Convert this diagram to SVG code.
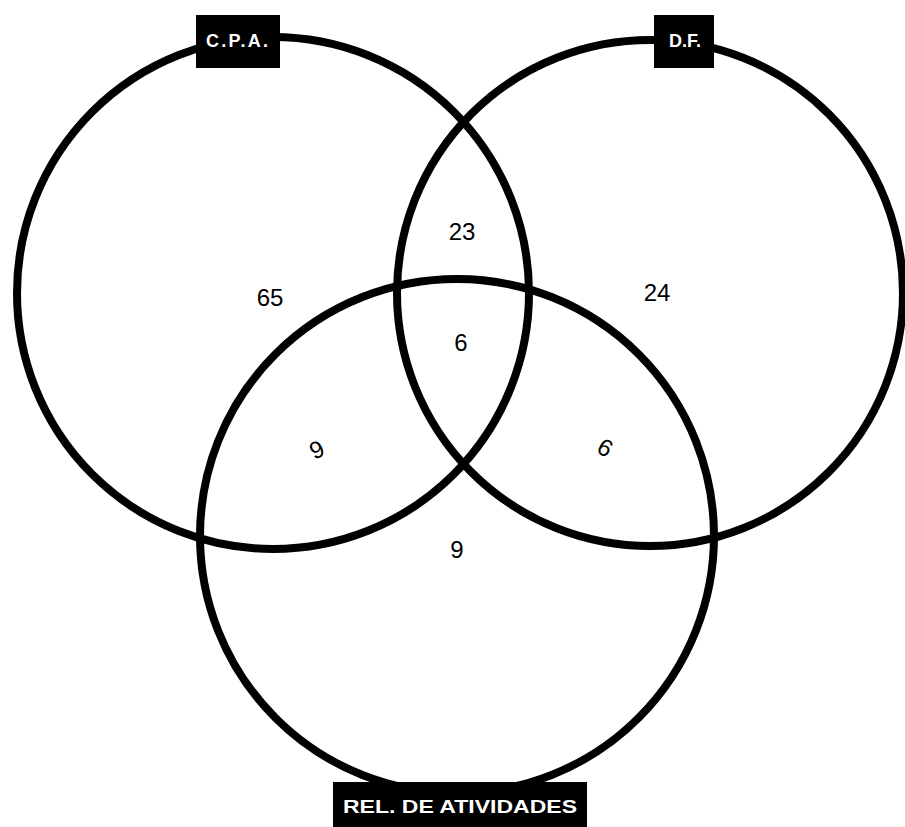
<svg xmlns="http://www.w3.org/2000/svg" width="905" height="827" viewBox="0 0 905 827">
<style>
.c{fill:none;stroke:#000;stroke-width:8}
.n{font-family:"Liberation Sans",Arial,sans-serif;font-size:24px;fill:#000;text-anchor:middle}
.lb{fill:#000}
.lt{font-family:"Liberation Sans",Arial,sans-serif;font-weight:bold;fill:#fff;text-anchor:middle}
</style>
<rect width="905" height="827" fill="#fff"/>
<g id="sets">
<circle id="cpa" class="c" cx="273" cy="293" r="256"/>
<circle id="df" class="c" cx="650" cy="293" r="253"/>
<circle id="rel" class="c" cx="457" cy="536" r="257"/>
</g>
<g id="counts">
<text class="n" x="270" y="306">65</text>
<text class="n" x="657" y="301">24</text>
<text class="n" x="462" y="240">23</text>
<text class="n" x="461" y="351">6</text>
<text class="n" x="317" y="458" transform="rotate(-25 317 450)">9</text>
<text class="n" x="605" y="456" transform="rotate(30 605 448)">6</text>
<text class="n" x="457" y="558">9</text>
</g>
<g id="label-cpa">
<rect class="lb" x="196" y="15" width="84" height="53"/>
<text class="lt" x="237" y="47" font-size="18" textLength="62" lengthAdjust="spacing">C.P.A.</text>
</g>
<g id="label-df">
<rect class="lb" x="654" y="15" width="60" height="53"/>
<text class="lt" x="685" y="47" font-size="18">D.F.</text>
</g>
<g id="label-rel">
<rect class="lb" x="333" y="782" width="254" height="45"/>
<text class="lt" x="460" y="813" font-size="19" textLength="234" lengthAdjust="spacingAndGlyphs">REL. DE ATIVIDADES</text>
</g>
</svg>
